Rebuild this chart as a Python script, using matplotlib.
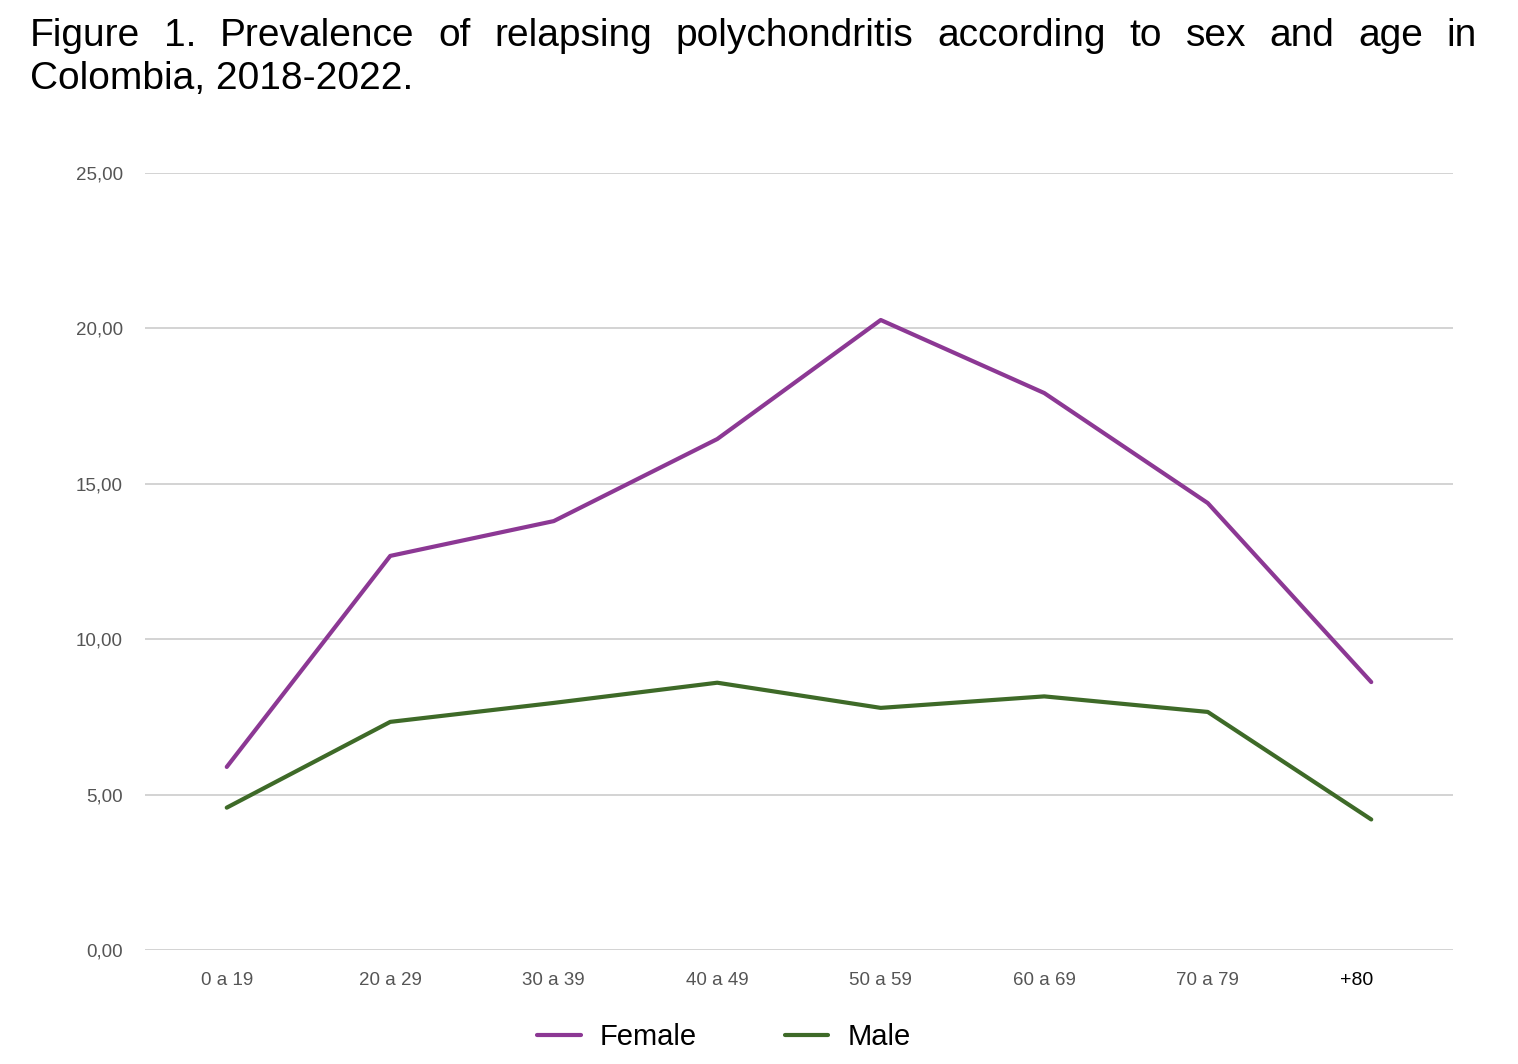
import matplotlib.pyplot as plt
from matplotlib.ticker import FuncFormatter
from matplotlib.transforms import ScaledTranslation

plt.rcParams['font.family'] = ['Liberation Sans', 'DejaVu Sans']

age_groups = ["0 a 19", "20 a 29", "30 a 39", "40 a 49", "50 a 59", "60 a 69", "70 a 79", "+80"]
female = [5.89, 12.68, 13.80, 16.44, 20.27, 17.92, 14.38, 8.62]
male = [4.58, 7.34, 7.95, 8.60, 7.79, 8.16, 7.66, 4.20]
yticks = [0, 5, 10, 15, 20, 25]

title_line1 = "Figure 1. Prevalence of relapsing polychondritis according to sex and age in"
title_line2 = "Colombia, 2018-2022."

W, H = 1518, 1064
fig = plt.figure(figsize=(W / 100, H / 100), dpi=100)
ax = fig.add_axes([145 / W, 1 - 950 / H, 1308 / W, 777 / H])

x = list(range(len(age_groups)))
ax.plot(x, female, color="#8C3894", lw=3, label="Female", solid_capstyle="round")
ax.plot(x, male, color="#3E6A28", lw=3, label="Male", solid_capstyle="round")

ax.set_xlim(-0.5, len(age_groups) - 0.5)
ax.set_ylim(0, 25)
ax.set_yticks(yticks)
ax.yaxis.set_major_formatter(FuncFormatter(lambda v, p: f"{v:.2f}".replace(".", ",")))
ax.set_xticks(x)
ax.set_xticklabels(age_groups)
ax.grid(axis="y", color="#d0d0d0", lw=1.3)
ax.set_axisbelow(True)
for s in ax.spines.values():
    s.set_visible(False)
ax.tick_params(axis="y", length=0, pad=16, labelsize=13.5, labelcolor="#555555")
ax.tick_params(axis="x", length=0, pad=16, labelsize=13.5, labelcolor="#555555")
last = ax.get_xticklabels()[-1]
last.set_color("black")
last.set_fontsize(14)
last.set_transform(last.get_transform() + ScaledTranslation(-0.15, 0, fig.dpi_scale_trans))

fig.legend(loc="center", bbox_to_anchor=(724 / W, 1 - 1037 / H), ncol=2, frameon=False,
           fontsize=21, handlelength=1.5, handletextpad=0.65, columnspacing=3.0)

# justified title, first line
words = title_line1.split()
left, right = 30 / W, 1477 / W
fs = 28
texts = [fig.text(0, 1 - 46 / H, w, fontsize=fs, va="baseline", ha="left") for w in words]
fig.canvas.draw()
r = fig.canvas.get_renderer()
widths = [t.get_window_extent(r).width / W for t in texts]
gap = (right - left - sum(widths)) / (len(words) - 1)
pos = left
for t, w in zip(texts, widths):
    t.set_x(pos)
    pos += w + gap
fig.text(left, 1 - 89 / H, title_line2, fontsize=fs, va="baseline", ha="left")

plt.savefig("out.png", dpi=100)
